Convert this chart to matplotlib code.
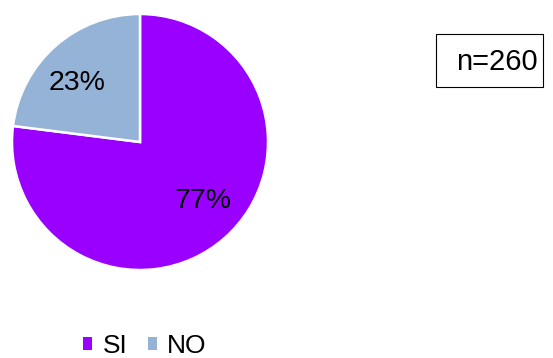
import numpy as np
import matplotlib.pyplot as plt
from matplotlib.patches import Patch, Rectangle

plt.rcParams["font.family"] = ["Liberation Sans", "DejaVu Sans"]

# Data
labels = ["SI", "NO"]
values = [77, 23]
colors = ["#9900FF", "#95B3D7"]
sample_size = 260

W, H = 553, 358
fig = plt.figure(figsize=(W / 100, H / 100), dpi=100)

# pie axes: centre ~(140,142) px, radius ~128 px
ax = fig.add_axes([12 / W, (H - 270) / H, 256 / W, 256 / H])
wedges, texts, autotexts = ax.pie(
    values,
    colors=colors,
    startangle=90,
    counterclock=False,
    autopct=lambda p: "%d%%" % round(p),
    pctdistance=0.67,
    wedgeprops=dict(edgecolor="white", linewidth=1.8),
    textprops=dict(fontsize=20.5, color="black"),
)
# Excel-like label placement (slightly rotated from wedge middle)
for w, t in zip(wedges, autotexts):
    ang = np.deg2rad((w.theta1 + w.theta2) / 2 + 5.5)
    t.set_position((0.67 * np.cos(ang), 0.67 * np.sin(ang)))
ax.set_xlim(-1, 1)
ax.set_ylim(-1, 1)
ax.set_aspect("equal")

# n= box
fig.patches.append(
    Rectangle((436 / W, (H - 87) / H), 107 / W, 53 / H,
              transform=fig.transFigure, fill=False, edgecolor="black",
              linewidth=0.8)
)
fig.text(497 / W, (H - 62) / H, "n=%d" % sample_size, fontsize=21,
         ha="center", va="center")

# Legend
handles = [Patch(facecolor=c, edgecolor="none") for c in colors]
fig.legend(handles, labels, loc="center", bbox_to_anchor=(145 / W, (H - 346) / H),
           ncol=2, frameon=False, fontsize=19, handlelength=0.35,
           handleheight=0.35, handletextpad=0.4, columnspacing=0.75,
           borderaxespad=0, borderpad=0)

fig.savefig("out.png", dpi=100)
